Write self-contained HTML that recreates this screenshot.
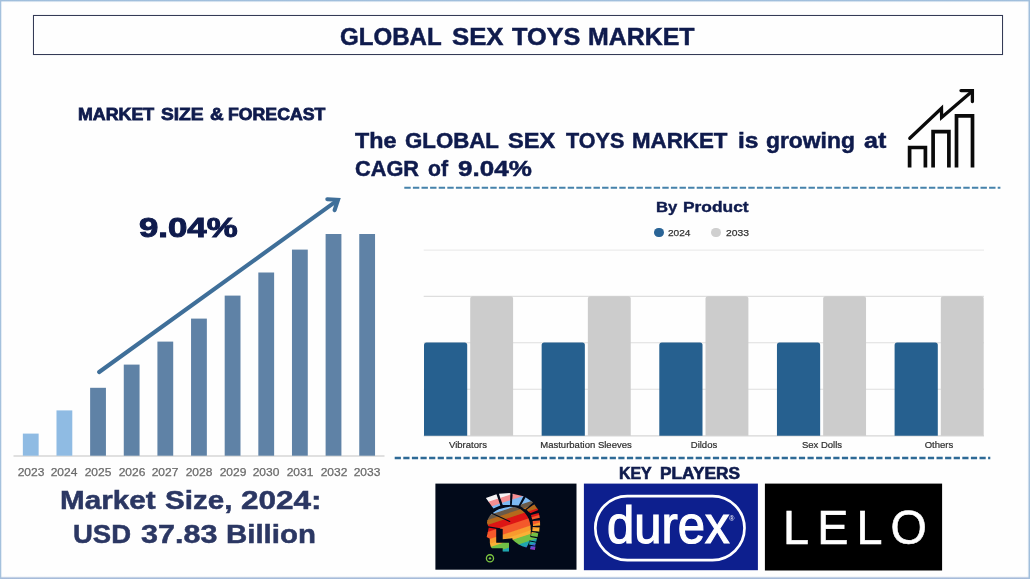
<!DOCTYPE html>
<html lang="en">
<head>
<meta charset="utf-8">
<title>Global Sex Toys Market</title>
<style>
html,body{margin:0;padding:0;}
body{width:1030px;height:579px;position:relative;overflow:hidden;background:#fefefe;font-family:"Liberation Sans",sans-serif;}
.fr{position:absolute;}
.fr.t{left:0;top:0;width:1030px;height:3px;background:linear-gradient(to bottom,#9dbcda 0,#a3c0dd 0.8px,rgba(163,192,221,.22) 1.8px,rgba(163,192,221,0) 2.6px);}
.fr.b{left:0;bottom:0;width:1030px;height:3px;background:linear-gradient(to top,#a4b9d8 0,#a9bedb 1.1px,rgba(169,190,219,.22) 2.1px,rgba(169,190,219,0) 2.9px);}
.fr.l{left:0;top:0;width:3px;height:579px;background:linear-gradient(to right,#9dbcda 0,#a6c2de 0.6px,rgba(166,194,222,.22) 1.6px,rgba(166,194,222,0) 2.4px);}
.fr.r{right:0;top:0;width:3px;height:579px;background:linear-gradient(to left,#9dbcda 0,#a3c0dd 0.9px,rgba(163,192,221,.22) 1.9px,rgba(163,192,221,0) 2.7px);}
.t{position:absolute;white-space:nowrap;line-height:1;transform-origin:left top;font-family:"Liberation Sans",sans-serif;}
.ln{position:absolute;left:0;width:1030px;height:1em;line-height:1;white-space:nowrap;font-family:"Liberation Sans",sans-serif;}
.w{position:absolute;top:0;left:0;display:block;line-height:1;white-space:nowrap;transform-origin:left top;}
.titlebox{position:absolute;left:33px;top:15px;width:970px;height:39.5px;box-sizing:border-box;border:1px solid #343a56;box-shadow:0 0 0.6px #343a56;}
.yl{position:absolute;top:467.1px;width:40px;margin-left:-20px;text-align:center;font-size:11.4px;line-height:1;color:#6a6a6a;transform:scaleX(1.055);-webkit-text-stroke:0.25px #6a6a6a;}
.cl{position:absolute;top:440.5px;width:140px;margin-left:-70px;text-align:center;font-size:9px;line-height:1;color:#2e2e2e;transform:scaleX(1.058);-webkit-text-stroke:0.2px #2e2e2e;}
.dot{position:absolute;width:9.6px;height:9.6px;border-radius:50%;}
</style>
</head>
<body>
<div class="fr t"></div><div class="fr b"></div><div class="fr l"></div><div class="fr r"></div>
<div class="titlebox"></div>

<!-- left bar chart -->
<div class="yl" style="left:30.75px">2023</div>
<div class="yl" style="left:64.39px">2024</div>
<div class="yl" style="left:98.03px">2025</div>
<div class="yl" style="left:131.67px">2026</div>
<div class="yl" style="left:165.31px">2027</div>
<div class="yl" style="left:198.95px">2028</div>
<div class="yl" style="left:232.59px">2029</div>
<div class="yl" style="left:266.23px">2030</div>
<div class="yl" style="left:299.87px">2031</div>
<div class="yl" style="left:333.51px">2032</div>
<div class="yl" style="left:367.15px">2033</div>


<!-- right chart -->
<svg style="position:absolute;left:0;top:0" width="1030" height="579" viewBox="0 0 1030 579">
<g stroke="#dedede" stroke-width="1.1">
    <line x1="423.7" x2="984" y1="250.1" y2="250.1" stroke="#ebebeb"/>
    <line x1="423.7" x2="984" y1="296.4" y2="296.4"/>
    <line x1="423.7" x2="984" y1="342.8" y2="342.8"/>
    <line x1="423.7" x2="984" y1="389.2" y2="389.2"/>
    <line x1="423.7" x2="984" y1="435.9" y2="435.9" stroke="#d6d6d6"/>
    <line x1="13.5" x2="384.5" y1="456" y2="456" stroke="#d6d6d6" stroke-width="1.3"/>
  </g>
<rect x="22.85" y="433.6" width="15.8" height="22.1" fill="#8fbbe3"/>
<rect x="56.49" y="410.4" width="15.8" height="45.3" fill="#8fbbe3"/>
<rect x="90.13" y="387.8" width="15.8" height="67.9" fill="#5f82a6"/>
<rect x="123.77" y="364.6" width="15.8" height="91.1" fill="#5f82a6"/>
<rect x="157.41" y="341.6" width="15.8" height="114.1" fill="#5f82a6"/>
<rect x="191.05" y="318.6" width="15.8" height="137.1" fill="#5f82a6"/>
<rect x="224.69" y="295.6" width="15.8" height="160.1" fill="#5f82a6"/>
<rect x="258.33" y="272.5" width="15.8" height="183.2" fill="#5f82a6"/>
<rect x="291.97" y="249.6" width="15.8" height="206.1" fill="#5f82a6"/>
<rect x="325.61" y="234.0" width="15.8" height="221.7" fill="#5f82a6"/>
<rect x="359.25" y="234.0" width="15.8" height="221.7" fill="#5f82a6"/>
<path d="M424.00 435.7V345.1Q424.00 342.6 426.50 342.6H464.70Q467.20 342.6 467.20 345.1V435.7Z" fill="#26608f"/>
<path d="M470.20 435.7V298.7Q470.20 296.2 472.70 296.2H510.60Q513.10 296.2 513.10 298.7V435.7Z" fill="#cccccc"/>
<path d="M541.65 435.7V345.1Q541.65 342.6 544.15 342.6H582.35Q584.85 342.6 584.85 345.1V435.7Z" fill="#26608f"/>
<path d="M587.85 435.7V298.7Q587.85 296.2 590.35 296.2H628.25Q630.75 296.2 630.75 298.7V435.7Z" fill="#cccccc"/>
<path d="M659.30 435.7V345.1Q659.30 342.6 661.80 342.6H700.00Q702.50 342.6 702.50 345.1V435.7Z" fill="#26608f"/>
<path d="M705.50 435.7V298.7Q705.50 296.2 708.00 296.2H745.90Q748.40 296.2 748.40 298.7V435.7Z" fill="#cccccc"/>
<path d="M776.95 435.7V345.1Q776.95 342.6 779.45 342.6H817.65Q820.15 342.6 820.15 345.1V435.7Z" fill="#26608f"/>
<path d="M823.15 435.7V298.7Q823.15 296.2 825.65 296.2H863.55Q866.05 296.2 866.05 298.7V435.7Z" fill="#cccccc"/>
<path d="M894.60 435.7V345.1Q894.60 342.6 897.10 342.6H935.30Q937.80 342.6 937.80 345.1V435.7Z" fill="#26608f"/>
<path d="M940.80 435.7V298.7Q940.80 296.2 943.30 296.2H981.20Q983.70 296.2 983.70 298.7V435.7Z" fill="#cccccc"/>
  <!-- growth arrow -->
  <g fill="none" stroke="#3f6f99" stroke-width="4.1" stroke-linecap="round" stroke-linejoin="miter">
    <line x1="99.2" y1="372" x2="337" y2="200.6"/>
    <polyline points="327.3,199.2 338,199.8 334.6,210.2"/>
  </g>
  <!-- dashed separators -->
  <line x1="404.3" y1="187.7" x2="1000.4" y2="187.7" stroke="#4682ab" stroke-width="1.9" stroke-dasharray="6.4 2.2"/>
  <line x1="394.7" y1="458" x2="990.3" y2="458" stroke="#2e6a96" stroke-width="2.3" stroke-dasharray="6.2 2.4"/>
  <!-- icon -->
  <g fill="none" stroke="#0a0a0a" stroke-linecap="butt" stroke-linejoin="miter">
    <path d="M909.6 167.4V147.5H925.4V167.4" stroke-width="3.7"/>
    <path d="M933.1 167.4V131.7H948.9V167.4" stroke-width="3.7"/>
    <path d="M956.5 167.4V115.8H972.5V167.4" stroke-width="3.7"/>
    <path d="M909.8 138.3L941.5 108.3L941.6 117.4L971.6 91.8" stroke-width="3.3" stroke-linecap="round" stroke-linejoin="miter"/>
    <path d="M961 90.6H972.4V101.6" stroke-width="3.3" stroke-linecap="round"/>
  </g>
</svg>
<div class="cl" style="left:467.90px">Vibrators</div>
<div class="cl" style="left:586.45px">Masturbation Sleeves</div>
<div class="cl" style="left:704.10px">Dildos</div>
<div class="cl" style="left:821.75px">Sex Dolls</div>
<div class="cl" style="left:939.40px">Others</div>
<div class="dot" style="left:654px;top:227.5px;background:#2a6496"></div>
<div class="dot" style="left:711.1px;top:227.5px;background:#cfcfcf"></div>


<!-- logos -->
<svg style="position:absolute;left:0;top:0" width="1030" height="579" viewBox="0 0 1030 579">
  <rect x="435.4" y="483.6" width="141.1" height="86.1" fill="#020a1a"/>
  <rect x="583.9" y="483.6" width="174" height="86.6" fill="#0d1f8e"/>
  <rect x="764.9" y="483.6" width="177.2" height="86.9" fill="#000"/>
  <rect x="595.3" y="496.1" width="149.2" height="64" rx="32" ry="32" fill="none" stroke="#fff" stroke-width="2.7"/>
</svg>
<div style="position:absolute;left:435.6px;top:483.7px;width:141px;height:86px">
<svg style="position:absolute;left:44.4px;top:4.3px" width="65" height="77" viewBox="0 0 489 579">
<defs><clipPath id="hc"><path d="M52,262 C58,205 120,152 215,142 C300,136 368,188 380,285 C386,345 378,405 350,447 C306,437 268,415 239,381 L218,400 L218,479 L171,479 L171,453 L90,453 L80,440 L74,414 L74,382 L50,368 L58,335 L66,297 Z"/><polygon points="44,75 124,46 153,132 101,155"/><polygon points="142,44 228,38 226,127 171,128"/><polygon points="246,44 327,62 291,132 239,127"/><polygon points="343,70 400,109 340,161 304,137"/><polygon points="408,122 439,166 379,189 350,163"/><rect x="387.0" y="195.0" width="60" height="36" transform="rotate(-14 417 213)"/><rect x="397.5" y="246.5" width="55" height="37" transform="rotate(-4 425 265)"/><rect x="395.0" y="294.5" width="52" height="31" transform="rotate(4 421 310)"/><rect x="386.0" y="335.0" width="50" height="30" transform="rotate(10 411 350)"/><rect x="374.0" y="373.0" width="52" height="26" transform="rotate(12 400 386)"/><rect x="370.5" y="406.5" width="47" height="23" transform="rotate(10 394 418)"/><rect x="379.0" y="438.0" width="36" height="26" transform="rotate(8 397 451)"/></clipPath></defs>
<g clip-path="url(#hc)"><polygon fill="#f5f3f4" points="0.0,-220.8 489.0,-382.2 489.0,-31.2 0.0,130.2"/><polygon fill="#f48f92" points="0.0,124.2 489.0,-37.2 489.0,11.8 0.0,173.2"/><polygon fill="#7db9f2" points="0.0,167.2 489.0,5.8 489.0,70.8 0.0,232.2"/><polygon fill="#6b5a48" points="0.0,226.2 489.0,64.8 489.0,104.8 0.0,266.2"/><polygon fill="#b5691c" points="0.0,260.2 489.0,98.8 489.0,140.8 0.0,302.2"/><polygon fill="#dd1515" points="0.0,296.2 489.0,134.8 489.0,193.8 0.0,355.2"/><polygon fill="#f4592b" points="0.0,349.2 489.0,187.8 489.0,251.8 0.0,413.2"/><polygon fill="#f99b2e" points="0.0,407.2 489.0,245.8 489.0,287.8 0.0,449.2"/><polygon fill="#f9b036" points="0.0,443.2 489.0,281.8 489.0,314.8 0.0,476.2"/><polygon fill="#72c045" points="0.0,470.2 489.0,308.8 489.0,364.8 0.0,526.2"/><polygon fill="#1fa5ae" points="0.0,520.2 489.0,358.8 489.0,397.8 0.0,559.2"/><polygon fill="#4a62d8" points="0.0,553.2 489.0,391.8 489.0,423.8 0.0,585.2"/><polygon fill="#8a3cc2" points="0.0,579.2 489.0,417.8 489.0,823.8 0.0,985.2"/></g>
<path d="M122,301 L171,308 L171,386 L245,378 L232,412 L122,412 Z" fill="#020a1a"/>
<path d="M60,292 L150,307" fill="none" stroke="#020a1a" stroke-width="9"/>
<path d="M93,192 L224,252" fill="none" stroke="#020a1a" stroke-width="8" stroke-linecap="round"/>
<circle cx="75" cy="529" r="27" fill="none" stroke="#7cc540" stroke-width="10"/>
<circle cx="75" cy="529" r="9" fill="#7cc540"/>
</svg>
</div>
<div class="t" style="left:729.2px;top:514.6px;font-size:7px;color:#fff">®</div>
<div class="ln" id="title" style="top:24.70px;font-size:24.06px;font-weight:bold;color:#0f1b4d;-webkit-text-stroke:0.5px #0f1b4d;">
<span class="w" style="left:340.34px;transform:scaleX(1.0006)">GLOBAL</span>
<span class="w" style="left:451.53px;transform:scaleX(1.0710)">SEX</span>
<span class="w" style="left:511.55px;transform:scaleX(1.0509)">TOYS</span>
<span class="w" style="left:588.46px;transform:scaleX(1.0362)">MARKET</span>
</div>
<div class="ln" id="msf" style="top:105.61px;font-size:17.10px;font-weight:bold;color:#0f1b4d;-webkit-text-stroke:0.8px #0f1b4d;">
<span class="w" style="left:77.85px;transform:scaleX(1.0414)">MARKET</span>
<span class="w" style="left:161.13px;transform:scaleX(1.1205)">SIZE</span>
<span class="w" style="left:209.84px;transform:scaleX(1.1065)">&amp;</span>
<span class="w" style="left:228.46px;transform:scaleX(1.0346)">FORECAST</span>
</div>
<div class="ln" id="cagr" style="top:213.73px;font-size:27.55px;font-weight:bold;color:#0f1b4d;-webkit-text-stroke:1.0px #0f1b4d;">
<span class="w" style="left:138.51px;transform:scaleX(1.2618)">9.04%</span>
</div>
<div class="ln" id="h1" style="top:131.04px;font-size:21.30px;font-weight:bold;color:#0f1b4d;-webkit-text-stroke:0.5px #0f1b4d;">
<span class="w" style="left:355.07px;transform:scaleX(1.0934)">The</span>
<span class="w" style="left:404.81px;transform:scaleX(1.0451)">GLOBAL</span>
<span class="w" style="left:508.29px;transform:scaleX(1.1064)">SEX</span>
<span class="w" style="left:565.88px;transform:scaleX(1.0114)">TOYS</span>
<span class="w" style="left:632.04px;transform:scaleX(1.0483)">MARKET</span>
<span class="w" style="left:737.88px;transform:scaleX(1.1539)">is</span>
<span class="w" style="left:765.89px;transform:scaleX(1.0729)">growing</span>
<span class="w" style="left:863.85px;transform:scaleX(1.1762)">at</span>
</div>
<div class="ln" id="h2" style="top:159.04px;font-size:21.30px;font-weight:bold;color:#0f1b4d;-webkit-text-stroke:0.5px #0f1b4d;">
<span class="w" style="left:354.53px;transform:scaleX(1.0203)">CAGR</span>
<span class="w" style="left:427.95px;transform:scaleX(0.9961)">of</span>
<span class="w" style="left:457.66px;transform:scaleX(1.2218)">9.04%</span>
</div>
<div class="ln" id="byp" style="top:199.22px;font-size:15.22px;font-weight:bold;color:#0f1b4d;-webkit-text-stroke:0.4px #0f1b4d;">
<span class="w" style="left:655.83px;transform:scaleX(1.0952)">By</span>
<span class="w" style="left:683.38px;transform:scaleX(1.1420)">Product</span>
</div>
<div class="ln" id="l24" style="top:228.13px;font-size:9.44px;font-weight:normal;color:#333;-webkit-text-stroke:0.25px #333;">
<span class="w" style="left:668.40px;transform:scaleX(1.0692)">2024</span>
</div>
<div class="ln" id="l33" style="top:228.13px;font-size:9.44px;font-weight:normal;color:#333;-webkit-text-stroke:0.25px #333;">
<span class="w" style="left:725.68px;transform:scaleX(1.0941)">2033</span>
</div>
<div class="ln" id="ms1" style="top:488.35px;font-size:25.65px;font-weight:bold;color:#2b3763;-webkit-text-stroke:0.5px #2b3763;">
<span class="w" style="left:59.92px;transform:scaleX(1.1571)">Market</span>
<span class="w" style="left:165.41px;transform:scaleX(1.1534)">Size,</span>
<span class="w" style="left:241.45px;transform:scaleX(1.2288)">2024:</span>
</div>
<div class="ln" id="ms2" style="top:520.98px;font-size:26.09px;font-weight:bold;color:#2b3763;-webkit-text-stroke:0.5px #2b3763;">
<span class="w" style="left:73.25px;transform:scaleX(1.0546)">USD</span>
<span class="w" style="left:141.39px;transform:scaleX(1.1703)">37.83</span>
<span class="w" style="left:225.84px;transform:scaleX(1.1277)">Billion</span>
</div>
<div class="ln" id="kp" style="top:465.72px;font-size:15.80px;font-weight:bold;color:#0f1b4d;-webkit-text-stroke:0.6px #0f1b4d;">
<span class="w" style="left:619.09px;transform:scaleX(1.0058)">KEY</span>
<span class="w" style="left:659.79px;transform:scaleX(1.0924)">PLAYERS</span>
</div>
<div class="ln" id="durex" style="top:498.84px;font-size:52.13px;font-weight:normal;color:#fff;-webkit-text-stroke:1.2px #fff;">
<span class="w" style="left:606.74px;transform:scaleX(0.9404)">durex</span>
</div>
<div class="ln" id="lelo" style="top:503.74px;font-size:47.54px;font-weight:normal;color:#fff;-webkit-text-stroke:0.6px #fff;">
<span class="w" style="left:782.56px;letter-spacing:8.30px;transform:scaleX(0.9828)">LELO</span>
</div>
</body>
</html>
